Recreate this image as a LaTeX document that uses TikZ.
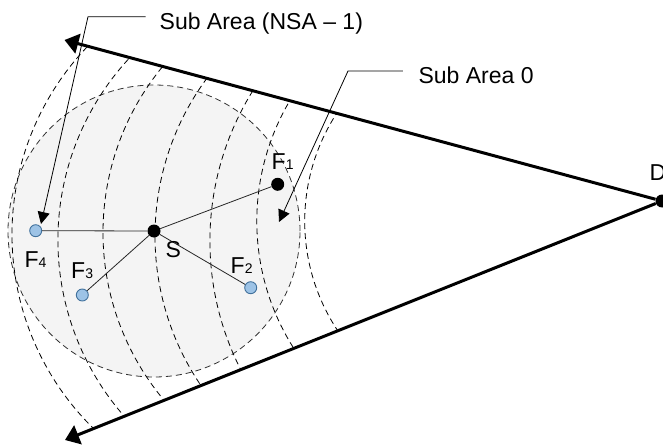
\documentclass[tikz,border=0pt]{standalone}
\usepackage{fontspec}
\setmainfont{Liberation Sans}
\usetikzlibrary{arrows.meta,calc}
\definecolor{areafill}{HTML}{F4F4F4}
\definecolor{dotblue}{HTML}{9DC3E6}
\definecolor{dotedge}{HTML}{41719C}
\newcommand\smallidx{\fontsize{14}{14}\selectfont}
\begin{document}
\begin{tikzpicture}[x=1pt,y=1pt,
  lbl/.style={inner sep=0pt, anchor=base west, font=\fontsize{23}{27}\selectfont},
  blackdot/.style={circle, fill=black, inner sep=0pt, minimum size=13pt},
  bluedot/.style={circle, fill=dotblue, draw=dotedge, line width=0.9pt, inner sep=0pt, minimum size=12pt},
  area/.style={fill=areafill, draw=black!80, line width=0.8pt, dash pattern=on 6pt off 4pt},
  subarc/.style={draw=black, line width=0.8pt, dash pattern=on 6pt off 4pt},
  link/.style={draw=black!85, line width=0.8pt},
  leader/.style={draw=black, line width=0.8pt, -{Triangle[length=12pt,width=12pt]}},
  bound/.style={draw=black, line width=3pt, -{Triangle[length=14pt,width=20pt]}}
]
\useasboundingbox (0,0) rectangle (663,445);
\coordinate (sc) at (154,214);
\coordinate (dc) at (662,244);
\coordinate (ttip) at (64.5,405);
\coordinate (btip) at (65,5);
% shaded area around S
\path[area] (sc) circle[radius=146];
% sub-area boundaries
\begin{scope}
  \clip (dc) -- ($(dc)!1.3!(ttip)$) -- ($(dc)!1.3!(btip)$) -- cycle;
  \draw[subarc] (283.65,210.53) ++(130:271.66) arc[start angle=130, end angle=231, radius=271.66];
  \draw[subarc] (325.2,204.96) ++(131:267.3) arc[start angle=131, end angle=227, radius=267.3];
  \draw[subarc] (363.9,212.45) ++(134:260.9) arc[start angle=134, end angle=226, radius=260.9];
  \draw[subarc] (420.9,208.9) ++(137:265.9) arc[start angle=137, end angle=220, radius=265.9];
  \draw[subarc] (494,204.1) ++(142:284.1) arc[start angle=142, end angle=213, radius=284.1];
  \draw[subarc] (493.6,223.7) ++(143:236.8) arc[start angle=143, end angle=218, radius=236.8];
  \draw[subarc] (502.6,223.75) ++(140:197.9) arc[start angle=140, end angle=220, radius=197.9];
\end{scope}
% nodes
\node[blackdot] (S) at (sc) {};
\node[blackdot] (F1) at (277.7,260.7) {};
\node[bluedot] (F2) at (250.7,157.3) {};
\node[bluedot] (F3) at (82.3,150) {};
\node[bluedot] (F4) at (35.7,214.3) {};
\node[blackdot] (D) at (dc) {};
% links
\draw[link] (S) -- (F1);
\draw[link] (S) -- (F2);
\draw[link] (S) -- (F3);
\draw[link] (S) -- (F4);
% wedge boundaries
\draw[bound] (D) -- (ttip);
\draw[bound] (D) -- (btip);
% labels
\node[lbl] (tF1) at (271.5,275) {F{\smallidx 1}};
\node[lbl] (tF2) at (230.5,172) {F{\smallidx 2}};
\node[lbl] (tF3) at (71,167) {F{\smallidx 3}};
\node[lbl] (tF4) at (24.5,178) {F{\smallidx 4}};
\node[lbl] (tS) at (165.5,187.7) {S};
\node[lbl] (tD) at (649.5,265) {D};
\node[lbl] (tnsa) at (159.5,415.7) {Sub Area (NSA – 1)};
\node[lbl] (tzero) at (418.3,361.7) {Sub Area 0};
% leaders
\coordinate (n1) at ($(tnsa.base west)+(-14,12.6)$);
\coordinate (n2) at (88,428.3);
\coordinate (n3) at (41,221);
\draw[leader] (n1) -- (n2) -- (n3);
\coordinate (z1) at ($(tzero.base west)+(-15.5,12.3)$);
\coordinate (z2) at (348,374);
\coordinate (z3) at (279,223);
\draw[leader] (z1) -- (z2) -- (z3);
\end{tikzpicture}
\end{document}
